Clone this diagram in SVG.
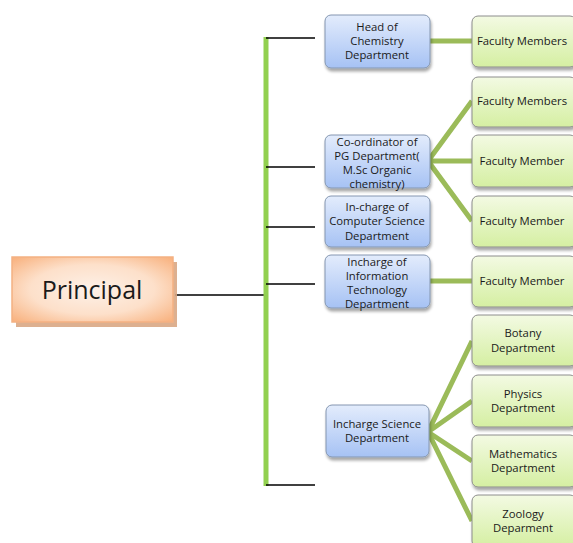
<svg xmlns="http://www.w3.org/2000/svg" width="573" height="543" viewBox="0 0 573 543">
<defs>
<linearGradient id="gb" x1="0" y1="0" x2="0" y2="1"><stop offset="0" stop-color="#e3ecfc"/><stop offset="1" stop-color="#a6c2f4"/></linearGradient>
<linearGradient id="gg" x1="0" y1="0" x2="0" y2="1"><stop offset="0" stop-color="#f3fae3"/><stop offset="1" stop-color="#d5efa2"/></linearGradient>
<radialGradient id="go" cx="0.5" cy="0.5" r="0.7"><stop offset="0" stop-color="#fdf1e8"/><stop offset="0.55" stop-color="#fde0ca"/><stop offset="1" stop-color="#f8b07c"/></radialGradient>
<filter id="sh" x="-10%" y="-10%" width="130%" height="140%"><feGaussianBlur in="SourceAlpha" stdDeviation="1.5"/><feOffset dx="1" dy="3"/><feComponentTransfer><feFuncA type="linear" slope="0.35"/></feComponentTransfer><feMerge><feMergeNode/><feMergeNode in="SourceGraphic"/></feMerge></filter>
</defs>
<style>
.b{fill:url(#gb);stroke:#8496b0;stroke-width:1;filter:url(#sh)}
.g{fill:url(#gg);stroke:#8c8c8c;stroke-width:1;filter:url(#sh)}
text{font-family:"Open Sans","Liberation Sans",sans-serif;font-size:11.3px;fill:#1a1a1a;text-anchor:middle}
.k{stroke:#000;stroke-width:1.5;fill:none}
.gl{stroke:#9bbb59;stroke-width:5;fill:none}
.bar{stroke:#92d050;stroke-width:5;fill:none}
</style>
<rect width="573" height="543" fill="#fff"/>
<g id="connectors">
<line class="k" x1="175" y1="295" x2="266" y2="295"/>
<line class="bar" x1="266" y1="37" x2="266" y2="486"/>
<line class="k" x1="266" y1="38" x2="315" y2="38"/>
<line class="k" x1="266" y1="167" x2="315" y2="167"/>
<line class="k" x1="266" y1="227" x2="315" y2="227"/>
<line class="k" x1="266" y1="284" x2="315" y2="284"/>
<line class="k" x1="266" y1="485" x2="315" y2="485"/>
<line class="gl" x1="430" y1="41" x2="472" y2="41"/>
<path class="gl" d="M472,101 L428,161 L472,161 M428,161 L472,221"/>
<line class="gl" x1="430" y1="281" x2="472" y2="281"/>
<path class="gl" d="M472,341 L428,432 L472,401 M428,432 L472,461 M428,432 L472,521"/>
</g>
<g id="principal">
<rect x="16" y="262" width="161" height="65" fill="#d9a784" opacity="0.9"/>
<rect x="12" y="257" width="161" height="65" fill="url(#go)" stroke="#f4b183" stroke-width="1.5"/>
<text x="92" y="299" style="font-size:25px;font-family:'Open Sans','Liberation Sans',sans-serif" fill="#000">Principal</text>
</g>
<g id="head-chem"><rect class="b" x="325" y="15" width="105" height="53" rx="6"/><text x="377" y="31">Head of</text><text x="377" y="45">Chemistry</text><text x="377" y="59">Department</text></g>
<g id="coord-pg"><rect class="b" x="325" y="135" width="105" height="53" rx="6"/><text x="377" y="146">Co-ordinator of</text><text x="377" y="160">PG Department(</text><text x="377" y="174">M.Sc Organic</text><text x="377" y="188">chemistry)</text></g>
<g id="incharge-cs"><rect class="b" x="325" y="196" width="105" height="51" rx="6"/><text x="377" y="211">In-charge of</text><text x="377" y="225">Computer Science</text><text x="377" y="240">Department</text></g>
<g id="incharge-it"><rect class="b" x="325" y="255" width="105" height="53" rx="6"/><text x="377" y="266">Incharge  of</text><text x="377" y="280">Information</text><text x="377" y="294">Technology</text><text x="377" y="308">Department</text></g>
<g id="incharge-sci"><rect class="b" x="326" y="405" width="103" height="52" rx="6"/><text x="377" y="428">Incharge Science</text><text x="377" y="442">Department</text></g>
<g id="fm1"><rect class="g" x="472" y="16" width="104" height="51" rx="6"/><text x="522" y="45">Faculty Members</text></g>
<g id="fm2"><rect class="g" x="472" y="77" width="104" height="50" rx="6"/><text x="522" y="105">Faculty Members</text></g>
<g id="fm3"><rect class="g" x="472" y="135" width="104" height="52" rx="6"/><text x="522" y="165">Faculty Member</text></g>
<g id="fm4"><rect class="g" x="472" y="196" width="104" height="51" rx="6"/><text x="522" y="225">Faculty Member</text></g>
<g id="fm5"><rect class="g" x="472" y="256" width="104" height="51" rx="6"/><text x="522" y="285">Faculty Member</text></g>
<g id="botany"><rect class="g" x="472" y="315" width="104" height="51" rx="6"/><text x="523" y="337">Botany</text><text x="523" y="352">Department</text></g>
<g id="physics"><rect class="g" x="472" y="375" width="104" height="52" rx="6"/><text x="523" y="398">Physics</text><text x="523" y="412">Department</text></g>
<g id="maths"><rect class="g" x="472" y="435" width="104" height="52" rx="6"/><text x="523" y="458">Mathematics</text><text x="523" y="472">Department</text></g>
<g id="zoology"><rect class="g" x="472" y="495" width="104" height="52" rx="6"/><text x="523" y="518">Zoology</text><text x="523" y="532">Deparment</text></g>
</svg>
